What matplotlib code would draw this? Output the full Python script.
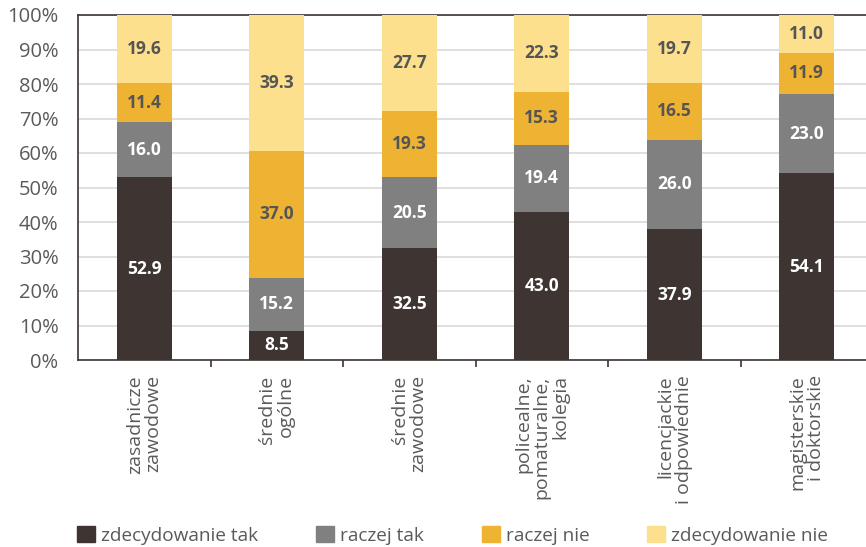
import numpy as np
import matplotlib.pyplot as plt
from matplotlib.patches import Patch

plt.rcParams['font.family'] = ['Open Sans', 'DejaVu Sans']

# data
categories = ["zasadnicze\nzawodowe", "średnie\nogólne", "średnie\nzawodowe",
              "policealne,\npomaturalne,\nkolegia", "licencjackie\ni odpowiednie",
              "magisterskie\ni doktorskie"]
series_names = ["zdecydowanie tak", "raczej tak", "raczej nie", "zdecydowanie nie"]
zdecydowanie_tak = [52.9, 8.5, 32.5, 43.0, 37.9, 54.1]
raczej_tak = [16.0, 15.2, 20.5, 19.4, 26.0, 23.0]
raczej_nie = [11.4, 37.0, 19.3, 15.3, 16.5, 11.9]
zdecydowanie_nie = [19.6, 39.3, 27.7, 22.3, 19.7, 11.0]

series = [zdecydowanie_tak, raczej_tak, raczej_nie, zdecydowanie_nie]
colors = ["#3e3532", "#808080", "#efb333", "#fde08e"]
text_colors = ["white", "white", "#555555", "#555555"]

fig = plt.figure(figsize=(8.66, 5.47), dpi=100)
ax = fig.add_axes([78 / 866, 187 / 547, 795 / 866, 345 / 547])

x = np.arange(len(categories))
bottom = np.zeros(len(categories))
for vals, col, tcol in zip(series, colors, text_colors):
    vals = np.array(vals)
    ax.bar(x, vals, width=0.415, bottom=bottom, color=col, zorder=3)
    for xi, b, v in zip(x, bottom, vals):
        ax.text(xi, b + v / 2, f"{v:.1f}", ha="center", va="center",
                color=tcol, fontsize=12.5, fontweight="bold", zorder=4)
    bottom += vals

ax.set_xlim(-0.5, len(categories) - 0.5)
ax.set_ylim(0, 100)
ax.set_yticks(np.arange(0, 101, 10))
ax.set_yticklabels([f"{v}%" for v in range(0, 101, 10)])
ax.tick_params(axis="y", length=0, pad=14, labelsize=14.5, labelcolor="#5a5a5a")
ax.grid(axis="y", color="#d9d9d9", linewidth=1.2, zorder=0)

ax.set_xticks(x)
ax.set_xticklabels(categories, rotation=90, ha="center", va="top",
                   multialignment="right", fontsize=14, color="#5a5a5a",
                   linespacing=1.05)
ax.tick_params(axis="x", which="major", length=0, pad=11)
ax.set_xticks(np.arange(0.5, len(categories) - 0.5, 1), minor=True)
ax.tick_params(axis="x", which="minor", length=5, width=1.2, color="#3e3532")

for side in ["left", "top", "bottom"]:
    ax.spines[side].set_color("#3e3532")
    ax.spines[side].set_linewidth(1.2)
ax.spines["right"].set_visible(False)

handles = [Patch(color=c, label=n) for c, n in zip(colors, series_names)]
fig.legend(handles=handles, loc="lower left", bbox_to_anchor=(60 / 866, -0.027),
           ncol=4, frameon=False, fontsize=13.7, handlelength=0.95, handleheight=0.95,
           handletextpad=0.3, columnspacing=3.05, labelcolor="#5a5a5a")

fig.savefig("out.png", dpi=100)
